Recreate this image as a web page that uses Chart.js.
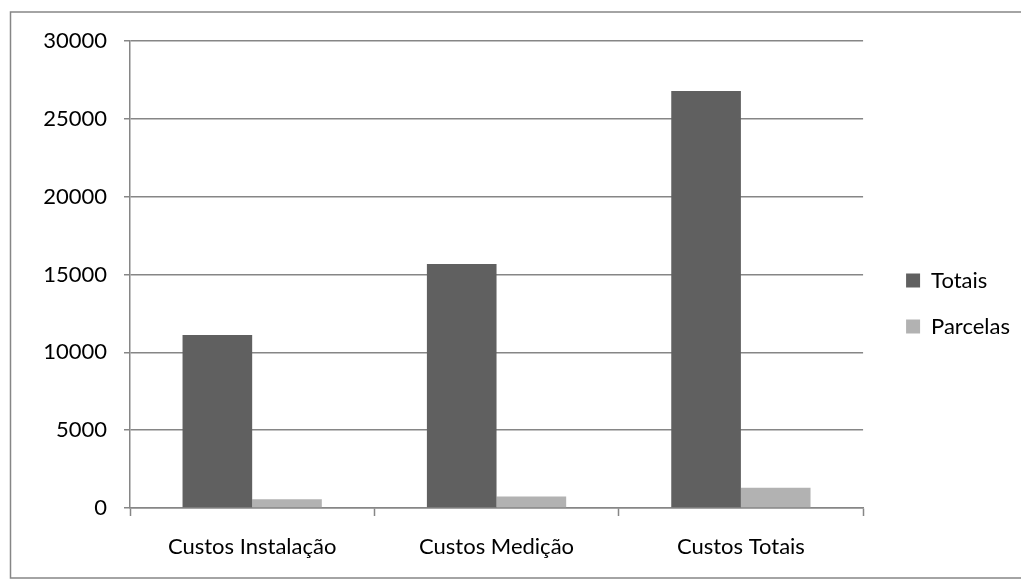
<!DOCTYPE html>
<html>
<head>
<meta charset="utf-8">
<script src="https://cdn.jsdelivr.net/npm/chart.js@4.4.1/dist/chart.umd.min.js"></script>
<style>
  html, body { margin: 0; padding: 0; background: #fff; }
  #wrap { position: absolute; left: 0; top: 0; width: 1021px; height: 584px; }
</style>
</head>
<body>
<div id="wrap"><canvas id="chart" width="1021" height="584"></canvas></div>
<script>
var categories = ['Custos Instalação', 'Custos Medição', 'Custos Totais'];
var totais = [11110, 15680, 26790];
var parcelas = [560, 740, 1300];
var yTicks = [0, 5000, 10000, 15000, 20000, 25000, 30000];

var axisGray = '#868686';
var fontFamily = 'Lato, "Noto Sans", sans-serif';

// outer frame around the whole chart (right edge runs off the canvas)
var framePlugin = {
    id: 'frame',
    beforeDraw: function(chart) {
        var ctx = chart.ctx;
        ctx.save();
        ctx.fillStyle = '#ffffff';
        ctx.fillRect(0, 0, chart.width, chart.height);
        ctx.strokeStyle = axisGray;
        ctx.lineWidth = 1.5;
        ctx.strokeRect(10.5, 12, 1020, 566);
        ctx.restore();
    }
};

var ctx = document.getElementById('chart').getContext('2d');
var chart = new Chart(ctx, {
    type: 'bar',
    data: {
        labels: categories,
        datasets: [
            { label: 'Totais', data: totais, backgroundColor: '#606060' },
            { label: 'Parcelas', data: parcelas, backgroundColor: '#b2b2b2' }
        ]
    },
    options: {
        responsive: false,
        animation: false,
        maintainAspectRatio: false,
        categoryPercentage: 0.57,
        barPercentage: 1,
        layout: { padding: { top: 41, left: 0, right: 1, bottom: 18 } },
        plugins: {
            tooltip: { enabled: false },
            legend: {
                position: 'right',
                align: 'center',
                labels: {
                    color: '#000',
                    font: { family: fontFamily, size: 22 },
                    boxWidth: 14,
                    boxHeight: 14,
                    padding: 24
                }
            }
        },
        scales: {
            x: {
                grid: {
                    offset: true,
                    drawOnChartArea: false,
                    color: axisGray,
                    tickLength: 8,
                    tickWidth: 1.5
                },
                border: { color: axisGray, width: 1.5 },
                ticks: { color: '#000', font: { family: fontFamily, size: 22 }, padding: 18, maxRotation: 0 },
                afterFit: function(scale) { scale.height = 58; }
            },
            y: {
                min: 0,
                max: 30000,
                afterBuildTicks: function(scale) {
                    scale.ticks = yTicks.map(function(v) { return { value: v }; });
                },
                grid: {
                    color: axisGray,
                    lineWidth: 1.5,
                    tickLength: 6
                },
                border: { color: axisGray, width: 1.5 },
                ticks: {
                    color: '#000',
                    font: { family: fontFamily, size: 22 },
                    padding: 17,
                    callback: function(v) { return String(v); }
                },
                afterFit: function(scale) { scale.width = 130; }
            },
            // empty spacer axis: keeps a gap between the plot and the legend
            gap: {
                position: 'right',
                min: 0,
                max: 1,
                grid: { display: false },
                border: { display: false },
                ticks: { display: false },
                afterFit: function(scale) { scale.width = 19; }
            }
        }
    },
    plugins: [framePlugin]
});
</script>
</body>
</html>
